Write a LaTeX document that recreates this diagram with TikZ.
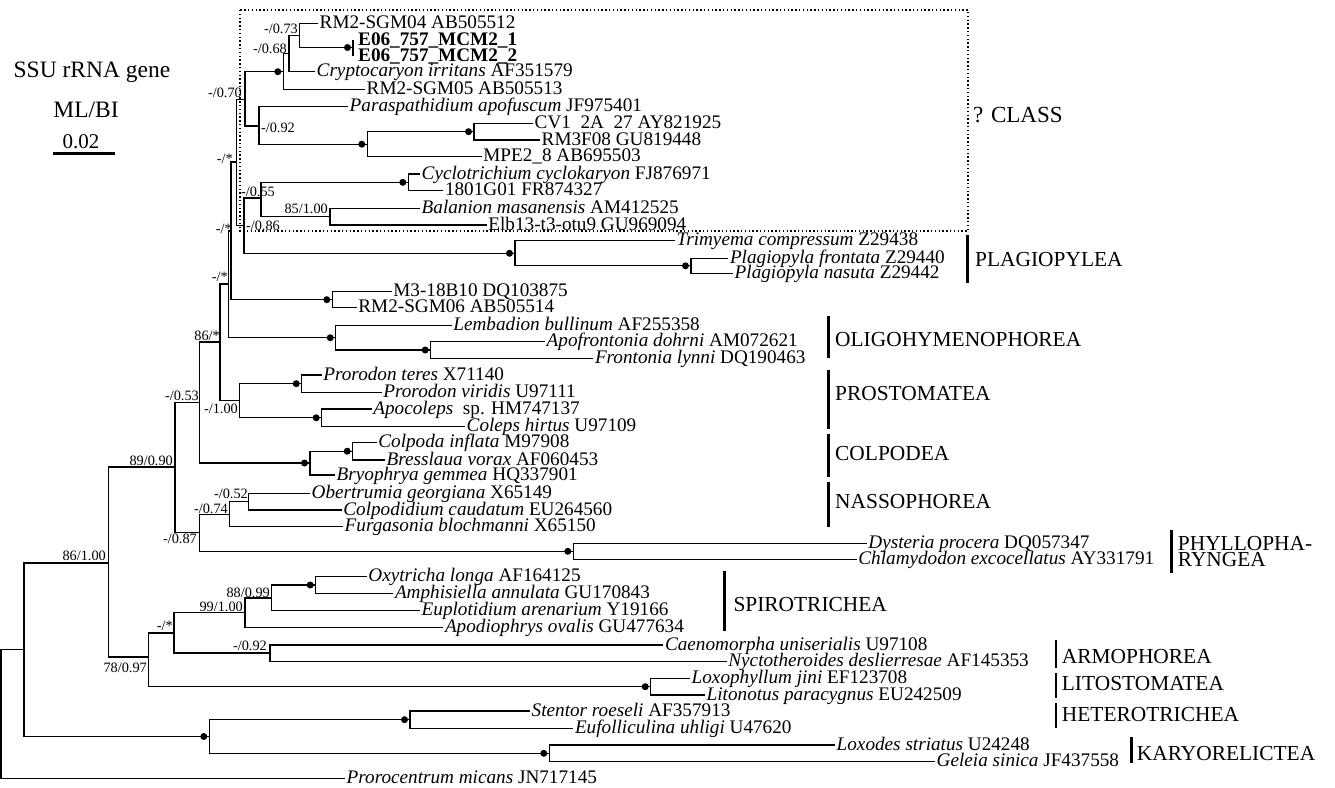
\documentclass[tikz,border=0pt]{standalone}
\usepackage{fontspec}
\setmainfont{Liberation Serif}
\newcommand\myleaffont{\fontsize{19.2}{19.2}\selectfont}
\newcommand\mysupfont{\fontsize{14.3}{14.3}\selectfont}
\newcommand\myclassfont{\fontsize{21.4}{21.4}\selectfont}
\newcommand\leafat[4]{\coordinate (#1) at (#2,#3); \node[leaf] (#1-t) at ([xshift=1.5pt,yshift=-5pt]#1) {#4};}
\tikzset{
  br/.style={draw=black, line width=1.3pt},
  leaf/.style={font=\myleaffont, anchor=base west, inner sep=0pt},
  sup/.style={font=\mysupfont, anchor=base east, inner sep=0pt},
  cls/.style={font=\myclassfont, anchor=base west, inner sep=0pt},
  clsbar/.style={draw=black, line width=2.8pt},
  boxline/.style={draw=black, line width=1.4pt, dash pattern=on 1.4pt off 2.4pt},
}
\begin{document}
\begin{tikzpicture}[x=1pt, y=-1pt]
\useasboundingbox (0,0) rectangle (1335,787);
\fill[white] (0,0) rectangle (1335,787);

% ---------- internal nodes ----------
\coordinate (root) at (1,714);
\coordinate (root2) at (24,649.7);
\coordinate (U) at (108.3,563);
\coordinate (HK) at (209.3,736.5);
\coordinate (HET) at (410,719.7);
\coordinate (KAR) at (549.3,753.3);
\coordinate (P) at (175,467);
\coordinate (V) at (148.3,657);
\coordinate (O) at (199.3,402.5);
\coordinate (Q) at (199.3,532.7);
\coordinate (N) at (220,342);
\coordinate (COLP) at (310,463);
\coordinate (COLPa) at (352.7,451.2);
\coordinate (M) at (228.3,284);
\coordinate (PROST) at (239.3,400.7);
\coordinate (PROR) at (301.7,383.7);
\coordinate (COLE) at (321.7,417.8);
\coordinate (L) at (231,231);
\coordinate (OLIG) at (335.7,337.8);
\coordinate (APOF) at (430.7,350);
\coordinate (K) at (236.7,162);
\coordinate (M3) at (332.3,299.7);
\coordinate (A) at (245,99.2);
\coordinate (J) at (244,225.5);
\coordinate (I) at (261,198);
\coordinate (CYC) at (408.3,182.3);
\coordinate (BAL) at (330,216.7);
\coordinate (PLAG) at (515,253.3);
\coordinate (PLAGb) at (691,265.8);
\coordinate (B) at (283.3,71.7);
\coordinate (C) at (259,126);
\coordinate (D) at (367.3,144.2);
\coordinate (E) at (474,131.7);
\coordinate (F) at (289,53.3);
\coordinate (G) at (299.3,35.4);
\coordinate (H) at (353,47.5);
\coordinate (R) at (229.3,514.2);
\coordinate (S) at (248.3,501.7);
\coordinate (T) at (573.3,551.3);
\coordinate (W) at (174,632.9);
\coordinate (X) at (245,612.6);
\coordinate (Z) at (271.7,597.9);
\coordinate (AA) at (315.7,585);
\coordinate (Y) at (270,653);
\coordinate (LIT) at (650.7,686.7);

% ---------- leaves ----------
\leafat{lRM04}{318}{23.3}{RM2-SGM04 AB505512}
\coordinate (lE1) at (353,39.5);
\node[leaf] (lE1-t) at ([xshift=5pt,yshift=-5.5pt]lE1) {\bfseries E06\_757\_MCM2\_1};
\coordinate (lE2) at (353,55.5);
\node[leaf] (lE2-t) at ([xshift=5pt,yshift=-5.5pt]lE2) {\bfseries E06\_757\_MCM2\_2};
\leafat{lCrypt}{315}{71.7}{\textit{Cryptocaryon irritans} AF351579}
\leafat{lRM05}{365}{89.3}{RM2-SGM05 AB505513}
\leafat{lPara}{348}{106.7}{\textit{Paraspathidium apofuscum} JF975401}
\leafat{lCV}{533}{123.3}{CV1\ \ 2A\ \ 27 AY821925}
\leafat{lRM3F}{540}{140}{RM3F08 GU819448}
\leafat{lMPE}{481.7}{156.7}{MPE2\_8 AB695503}
\leafat{lCyc}{420}{174}{\textit{Cyclotrichium cyclokaryon} FJ876971}
\leafat{l1801}{443.3}{190.7}{1801G01 FR874327}
\leafat{lBal}{420}{208.3}{\textit{Balanion masanensis} AM412525}
\leafat{lElb}{486.7}{225}{Elb13-t3-otu9 GU969094}
\leafat{lTrim}{675}{240.7}{\textit{Trimyema compressum} Z29438}
\leafat{lPfr}{728.3}{258.3}{\textit{Plagiopyla frontata} Z29440}
\leafat{lPna}{733}{273.3}{\textit{Plagiopyla nasuta} Z29442}
\leafat{lM3}{391.7}{291.7}{M3-18B10 DQ103875}
\leafat{lRM06}{356.7}{307.7}{RM2-SGM06 AB505514}
\leafat{lLemb}{451.7}{325.7}{\textit{Lembadion bullinum} AF255358}
\leafat{lApof}{545}{341.7}{\textit{Apofrontonia dohrni} AM072621}
\leafat{lFront}{593.3}{358.3}{\textit{Frontonia lynni} DQ190463}
\leafat{lPte}{321.7}{375}{\textit{Prorodon teres} X71140}
\leafat{lPvi}{381.7}{392.3}{\textit{Prorodon viridis} U97111}
\leafat{lApoc}{371.7}{409}{\textit{Apocoleps}~~sp. HM747137}
\leafat{lColep}{465}{426.7}{\textit{Coleps hirtus} U97109}
\leafat{lColp}{376.7}{442.3}{\textit{Colpoda inflata} M97908}
\leafat{lBress}{385}{460}{\textit{Bresslaua vorax} AF060453}
\leafat{lBryo}{335}{475}{\textit{Bryophrya gemmea} HQ337901}
\leafat{lOber}{310}{493.3}{\textit{Obertrumia georgiana} X65149}
\leafat{lColpod}{341.7}{510}{\textit{Colpodidium caudatum} EU264560}
\leafat{lFurg}{343}{526.7}{\textit{Furgasonia blochmanni} X65150}
\leafat{lDyst}{866.7}{543.3}{\textit{Dysteria procera} DQ057347}
\leafat{lChlam}{856.7}{559.3}{\textit{Chlamydodon excocellatus} AY331791}
\leafat{lOxy}{366.7}{576.7}{\textit{Oxytricha longa} AF164125}
\leafat{lAmph}{393.3}{593.3}{\textit{Amphisiella annulata} GU170843}
\leafat{lEupl}{420}{610.7}{\textit{Euplotidium arenarium} Y19166}
\leafat{lApodi}{443.3}{627.3}{\textit{Apodiophrys ovalis} GU477634}
\leafat{lCaen}{663.3}{645}{\textit{Caenomorpha uniserialis} U97108}
\leafat{lNyct}{726.7}{661.7}{\textit{Nyctotheroides deslierresae} AF145353}
\leafat{lLoxo}{690}{678.3}{\textit{Loxophyllum jini} EF123708}
\leafat{lLito}{705}{695}{\textit{Litonotus paracygnus} EU242509}
\leafat{lStent}{530}{711}{\textit{Stentor roeseli} AF357913}
\leafat{lEufol}{573.3}{728.3}{\textit{Eufolliculina uhligi} U47620}
\leafat{lLoxod}{835}{745}{\textit{Loxodes striatus} U24248}
\leafat{lGel}{935}{761.7}{\textit{Geleia sinica} JF437558}
\leafat{lPror}{345}{778.3}{\textit{Prorocentrum micans} JN717145}

% ---------- branches ----------
\draw[br] (root) |- (root2);  \draw[br] (root) |- (lPror);
\draw[br] (root2) |- (U);     \draw[br] (root2) |- (HK);
\draw[br] (U) |- (P);         \draw[br] (U) |- (V);
\draw[br] (HK) |- (HET);      \draw[br] (HK) |- (KAR);
\draw[br] (HET) |- (lStent);  \draw[br] (HET) |- (lEufol);
\draw[br] (KAR) |- (lLoxod);  \draw[br] (KAR) |- (lGel);
\draw[br] (P) |- (O);         \draw[br] (P) |- (Q);
\draw[br] (O) |- (N);         \draw[br] (O) |- (COLP);
\draw[br] (N) |- (M);         \draw[br] (N) |- (PROST);
\draw[br] (M) |- (L);         \draw[br] (M) |- (OLIG);
\draw[br] (L) |- (K);         \draw[br] (L) |- (M3);
\draw[br] (K) |- (A);         \draw[br] (K) |- (J);
\draw[br] (A) |- (B);         \draw[br] (A) |- (C);
\draw[br] (B) |- (F);         \draw[br] (B) |- (lRM05);
\draw[br] (F) |- (G);         \draw[br] (F) |- (lCrypt);
\draw[br] (G) |- (lRM04);     \draw[br] (G) |- (H);
\draw[br] (H) |- (lE1);       \draw[br] (H) |- (lE2);
\draw[br] (C) |- (lPara);     \draw[br] (C) |- (D);
\draw[br] (D) |- (E);         \draw[br] (D) |- (lMPE);
\draw[br] (E) |- (lCV);       \draw[br] (E) |- (lRM3F);
\draw[br] (J) |- (I);         \draw[br] (J) |- (PLAG);
\draw[br] (I) |- (CYC);       \draw[br] (I) |- (BAL);
\draw[br] (CYC) |- (lCyc);    \draw[br] (CYC) |- (l1801);
\draw[br] (BAL) |- (lBal);    \draw[br] (BAL) |- (lElb);
\draw[br] (PLAG) |- (lTrim);  \draw[br] (PLAG) |- (PLAGb);
\draw[br] (PLAGb) |- (lPfr);  \draw[br] (PLAGb) |- (lPna);
\draw[br] (M3) |- (lM3);      \draw[br] (M3) |- (lRM06);
\draw[br] (OLIG) |- (lLemb);  \draw[br] (OLIG) |- (APOF);
\draw[br] (APOF) |- (lApof);  \draw[br] (APOF) |- (lFront);
\draw[br] (PROST) |- (PROR);  \draw[br] (PROST) |- (COLE);
\draw[br] (PROR) |- (lPte);   \draw[br] (PROR) |- (lPvi);
\draw[br] (COLE) |- (lApoc);  \draw[br] (COLE) |- (lColep);
\draw[br] (COLP) |- (COLPa);  \draw[br] (COLP) |- (lBryo);
\draw[br] (COLPa) |- (lColp); \draw[br] (COLPa) |- (lBress);
\draw[br] (Q) |- (R);         \draw[br] (Q) |- (T);
\draw[br] (R) |- (S);         \draw[br] (R) |- (lFurg);
\draw[br] (S) |- (lOber);     \draw[br] (S) |- (lColpod);
\draw[br] (T) |- (lDyst);     \draw[br] (T) |- (lChlam);
\draw[br] (V) |- (W);         \draw[br] (V) |- (LIT);
\draw[br] (W) |- (X);         \draw[br] (W) |- (Y);
\draw[br] (X) |- (Z);         \draw[br] (X) |- (lApodi);
\draw[br] (Z) |- (AA);        \draw[br] (Z) |- (lEupl);
\draw[br] (AA) |- (lOxy);     \draw[br] (AA) |- (lAmph);
\draw[br] (Y) |- (lCaen);     \draw[br] (Y) |- (lNyct);
\draw[br] (LIT) |- (lLoxo);   \draw[br] (LIT) |- (lLito);

% ---------- support dots ----------
\foreach \n in {H,B,D,E,CYC,PLAG,PLAGb,M3,OLIG,APOF,PROR,COLE,COLP,COLPa,T,AA,LIT,HET,KAR,HK}
  \fill ([xshift=-5.5pt]\n) circle (3.5pt);

% ---------- support values ----------
\node[sup] (sG) at (298,33) {-/0.73};
\node[sup] (sF) at (287,53) {-/0.68};
\node[sup] (sA) at (242,97) {-/0.70};
\node[sup] (sC) at (295,132) {-/0.92};
\node[sup] (sI) at (275,196) {-/0.55};
\node[sup] (sJ) at (280,230) {-/0.86};
\node[sup] (sBAL) at (328,213) {85/1.00};
\node[sup] (sK) at (233,163) {-/*};
\node[sup] (sL) at (232,233) {-/*};
\node[sup] (sM) at (228,281.7) {-/*};
\node[sup] (sN) at (220,340) {86/*};
\node[sup] (sPROST) at (238,413) {-/1.00};
\node[sup] (sO) at (199,400) {-/0.53};
\node[sup] (sP) at (173,465) {89/0.90};
\node[sup] (sQ) at (197,543) {-/0.87};
\node[sup] (sR) at (228,513) {-/0.74};
\node[sup] (sS) at (248,498) {-/0.52};
\node[sup] (sU) at (106,560) {86/1.00};
\node[sup] (sV) at (147,672) {78/0.97};
\node[sup] (sW) at (173,630.7) {-/*};
\node[sup] (sX) at (243,611.7) {99/1.00};
\node[sup] (sZ) at (270,597) {88/0.99};
\node[sup] (sY) at (267,650) {-/0.92};

% ---------- dotted box ----------
\draw[boxline] (240,10) rectangle (968,231);
\node[cls, font=\fontsize{23}{23}\selectfont] (qclass) at (973,122) {? CLASS};

% ---------- class bars ----------
\draw[clsbar] (967.3,235) -- (967.3,283.3);
\node[cls] (cPLAG) at (975,266.7) {PLAGIOPYLEA};
\draw[clsbar] (828.3,316) -- (828.3,358.3);
\node[cls] (cOLIG) at (835,346.7) {OLIGOHYMENOPHOREA};
\draw[clsbar] (828.3,370) -- (828.3,429.3);
\node[cls] (cPROST) at (835,400) {PROSTOMATEA};
\draw[clsbar] (828.3,434) -- (828.3,476.7);
\node[cls] (cCOLP) at (835,460) {COLPODEA};
\draw[clsbar] (828.3,481.7) -- (828.3,526.7);
\node[cls] (cNASS) at (835,508.3) {NASSOPHOREA};
\draw[clsbar] (1171.7,530) -- (1171.7,572.7);
\node[cls] (cPHYa) at (1177.7,550) {PHYLLOPHA-};
\node[cls] (cPHYb) at (1177.7,566.7) {RYNGEA};
\draw[clsbar] (724.3,570.7) -- (724.3,630.7);
\node[cls] (cSPIR) at (733.3,611.7) {SPIROTRICHEA};
\draw[clsbar] (1056,640) -- (1056,668.3);
\node[cls] (cARMO) at (1061.7,663.3) {ARMOPHOREA};
\draw[clsbar] (1056,673.3) -- (1056,698.3);
\node[cls] (cLITO) at (1061.7,690) {LITOSTOMATEA};
\draw[clsbar] (1056,703.3) -- (1056,728.3);
\node[cls] (cHET) at (1061.7,721.7) {HETEROTRICHEA};
\draw[clsbar] (1131.7,736.7) -- (1131.7,763.3);
\node[cls] (cKAR) at (1136.7,760) {KARYORELICTEA};

% ---------- legend ----------
\node[font=\fontsize{23.5}{23.5}\selectfont, anchor=base, inner sep=0pt] (title) at (92,77.3) {SSU rRNA gene};
\node[font=\fontsize{23.5}{23.5}\selectfont, anchor=base, inner sep=0pt] (mlbi) at (86,117.3) {ML/BI};
\node[font=\fontsize{21}{21}\selectfont, anchor=base, inner sep=0pt] (scale) at (81,148.3) {0.02};
\draw[line width=3pt] (53.3,153.3) -- (115,153.3);
\end{tikzpicture}
\end{document}
